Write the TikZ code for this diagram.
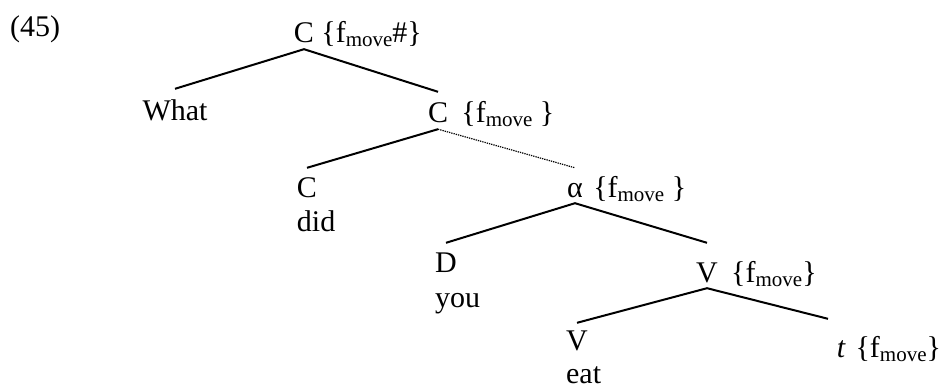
\documentclass[tikz,border=0pt]{standalone}
\usepackage{fontspec}
\setmainfont{Liberation Serif}
\usetikzlibrary{positioning}
\newcommand{\fmove}{f\raisebox{-4pt}{\fontsize{21}{24}\selectfont move}}
\tikzset{
  cat/.style={font=\fontsize{30}{36}\selectfont,inner xsep=0pt,inner ysep=6pt,
    text height=23pt,text depth=0pt,anchor=base},
  feat/.style={font=\fontsize{30}{36}\selectfont,inner sep=0pt,anchor=base west},
  word/.style={font=\fontsize{30}{36}\selectfont,inner sep=0pt,anchor=base west},
  branch/.style={draw=black,line width=2pt,line join=miter},
  moved/.style={draw=black,line width=1.2pt,dash pattern=on 1.3pt off 1pt}
}

\begin{document}
\begin{tikzpicture}[x=1pt,y=-1pt]
  \useasboundingbox (0,0) rectangle (942,390);
  \node[word] (ex) at (10,37) {(45)};
  % categories
  \node[cat] (c0) at (304,43) {C};
  \node[cat,text height=26pt] (what) at (175,121) {What};
  \node[cat,text height=25pt] (c1) at (438,123) {C};
  \node[cat] (c2) at (307,197) {C};
  \node[cat] (al) at (575,197) {α};
  \node[cat] (d) at (446,272) {D};
  \node[cat,text height=33pt] (v1) at (707,282) {V};
  \node[cat,text height=21pt] (v2) at (577,350) {V};
  \node[cat,text height=32pt] (tr) at (841,357) {\itshape t};
  % features
  \node[right=7pt of c0.base east,feat] (f0) {\{\fmove\#\}};
  \node[right=13pt of c1.base east,feat] (f1) {\{\fmove\ \}};
  \node[right=10pt of al.base east,feat] (fa) {\{\fmove\ \}};
  \node[right=13pt of v1.base east,feat] (fv) {\{\fmove\}};
  \node[right=10pt of tr.base east,feat] (ft) {\{\fmove\}};
  % words
  \node[below=35pt of c2.base west,word] (did) {did};
  \node[below=35pt of d.base west,word] (you) {you};
  \node[below=33pt of v2.base west,word] (eat) {eat};
  % branches
  \draw[branch] (what.north) -- (c0.south) -- (c1.north);
  \draw[branch] (c2.north) -- (c1.south);
  \draw[moved] (c1.south) -- (al.north);
  \draw[branch] (d.north) -- (al.south) -- (v1.north);
  \draw[branch] (v2.north) -- (v1.south) -- ([xshift=-13pt]tr.north);
\end{tikzpicture}
\end{document}
